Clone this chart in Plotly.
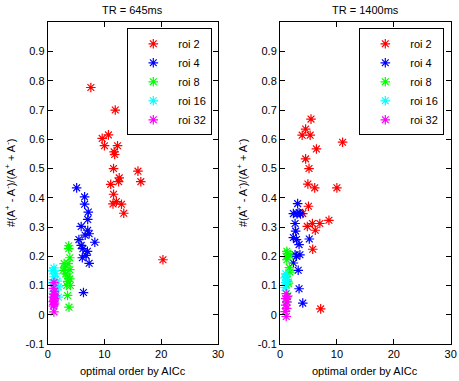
import plotly.graph_objects as go

# ---------------- data ----------------
roi_names = ["roi 2", "roi 4", "roi 8", "roi 16", "roi 32"]
roi_colors = ["#ff0000", "#0000ff", "#00ff00", "#00ffff", "#ff00ff"]

# TR = 645ms
a_roi2_x = [7.6, 11.9, 9.6, 10.7, 10.0, 12.3, 11.7, 11.8, 11.6, 15.9, 16.4, 12.6, 12.5, 11.1, 11.6, 12.1, 11.5, 13.0, 13.4, 20.3]
a_roi2_y = [0.777, 0.700, 0.603, 0.615, 0.578, 0.578, 0.557, 0.548, 0.500, 0.491, 0.455, 0.468, 0.455, 0.446, 0.412, 0.387, 0.379, 0.378, 0.347, 0.188]
a_roi4_x = [5.1, 6.5, 6.5, 7.15, 7.05, 5.9, 7.05, 7.3, 6.6, 5.5, 8.3, 5.9, 6.2, 7.0, 6.75, 6.1, 7.3, 6.3]
a_roi4_y = [0.434, 0.403, 0.378, 0.351, 0.326, 0.302, 0.289, 0.277, 0.272, 0.257, 0.248, 0.237, 0.226, 0.217, 0.203, 0.195, 0.176, 0.076]
a_roi8_x = [3.7, 3.7, 3.9, 2.9, 3.6, 2.75, 3.9, 3.2, 3.9, 3.5, 3.35, 4.0, 3.5, 3.75, 3.0, 3.6]
a_roi8_y = [0.236, 0.226, 0.195, 0.175, 0.175, 0.152, 0.154, 0.140, 0.123, 0.114, 0.100, 0.100, 0.066, 0.026, 0.160, 0.130]
a_roi16_x = [1.1, 0.9, 1.1, 1.7, 1.9, 1.0, 1.9, 1.1, 1.5, 0.8, 1.4, 1.2]
a_roi16_y = [0.160, 0.150, 0.130, 0.115, 0.095, 0.073, 0.060, 0.030, 0.085, 0.110, 0.140, 0.045]
a_roi32_x = [1.1, 1.0, 1.2, 1.1, 1.3, 1.0, 1.2, 1.1, 1.0, 1.2, 1.1, 1.0, 1.1]
a_roi32_y = [0.110, 0.090, 0.080, 0.070, 0.065, 0.060, 0.055, 0.050, 0.045, 0.040, 0.035, 0.030, 0.010]

# TR = 1400ms
b_roi2_x = [5.45, 4.5, 3.9, 5.3, 11.0, 6.4, 4.5, 5.1, 4.9, 6.1, 10.0, 5.0, 4.0, 4.8, 5.7, 7.0, 8.6, 6.2, 5.75, 7.15]
b_roi2_y = [0.669, 0.635, 0.614, 0.614, 0.590, 0.567, 0.533, 0.500, 0.447, 0.434, 0.434, 0.371, 0.346, 0.302, 0.312, 0.312, 0.323, 0.289, 0.224, 0.020]
b_roi4_x = [3.1, 2.35, 3.35, 3.0, 3.6, 2.65, 2.75, 2.35, 2.9, 3.35, 5.15, 2.65, 2.9, 3.5, 2.35, 3.2, 3.35, 4.0]
b_roi4_y = [0.380, 0.346, 0.349, 0.345, 0.345, 0.312, 0.286, 0.264, 0.257, 0.240, 0.259, 0.205, 0.200, 0.205, 0.177, 0.152, 0.089, 0.040]
b_roi8_x = [1.2, 1.75, 1.1, 1.2, 1.65, 1.75, 1.1, 1.45, 1.4, 1.2, 1.3, 1.5]
b_roi8_y = [0.217, 0.203, 0.199, 0.188, 0.161, 0.146, 0.130, 0.112, 0.065, 0.043, 0.210, 0.106]
b_roi16_x = [1.0, 0.9, 1.0, 0.9, 1.2, 1.1]
b_roi16_y = [0.140, 0.126, 0.110, 0.093, 0.118, 0.100]
b_roi32_x = [1.1, 1.0, 1.2, 1.0, 1.2, 0.9, 1.1, 1.3]
b_roi32_y = [0.072, 0.055, 0.044, 0.033, 0.022, 0.011, -0.006, 0.062]

panel_titles = ["TR = 645ms", "TR = 1400ms"]
x_label = "optimal order by AICc"
y_label = "#(A<sup>+</sup> - A<sup>-</sup>)/(A<sup>+</sup> + A<sup>-</sup>)"
x_ticks = [0, 10, 20, 30]
y_ticks = [-0.1, 0, 0.1, 0.2, 0.3, 0.4, 0.5, 0.6, 0.7, 0.8, 0.9]
y_tick_text = ["-0.1", "0", "0.1", "0.2", "0.3", "0.4", "0.5", "0.6", "0.7", "0.8", "0.9"]

panel_a = [(a_roi2_x, a_roi2_y), (a_roi4_x, a_roi4_y), (a_roi8_x, a_roi8_y),
           (a_roi16_x, a_roi16_y), (a_roi32_x, a_roi32_y)]
panel_b = [(b_roi2_x, b_roi2_y), (b_roi4_x, b_roi4_y), (b_roi8_x, b_roi8_y),
           (b_roi16_x, b_roi16_y), (b_roi32_x, b_roi32_y)]

# ---------------- figure ----------------
W, H = 459, 381
FONT = "Liberation Sans, Arial, sans-serif"
fig = go.Figure()

for panel_idx, panel in enumerate([panel_a, panel_b]):
    xa = "x" if panel_idx == 0 else "x2"
    ya = "y" if panel_idx == 0 else "y2"
    lg = "legend" if panel_idx == 0 else "legend2"
    for (xs, ys), name, col in zip(panel, roi_names, roi_colors):
        fig.add_trace(go.Scatter(
            x=xs, y=ys, mode="markers", name=name,
            xaxis=xa, yaxis=ya, legend=lg,
            marker=dict(symbol="asterisk-open", size=8,
                        line=dict(color=col, width=1.2), color=col),
        ))

def px_x(p):
    return p / W

def px_y(p):
    return 1 - p / H

ydom = [px_y(344), px_y(22.3)]
dom1 = [px_x(47.7), px_x(218)]
dom2 = [px_x(280), px_x(450.7)]

axis_common = dict(showline=True, linecolor="black", linewidth=1, mirror="ticks",
                   ticks="inside", ticklen=5, tickcolor="black", showgrid=False,
                   zeroline=False, automargin=False,
                   tickfont=dict(family=FONT, size=11, color="black"))

legend_common = dict(xanchor="right", yanchor="top",
                     bordercolor="black", borderwidth=1, bgcolor="white",
                     font=dict(family=FONT, size=11, color="black"),
                     itemwidth=40, tracegroupgap=0)

fig.update_layout(
    template="none",
    width=W, height=H,
    margin=dict(l=0, r=0, t=0, b=0, autoexpand=False),
    paper_bgcolor="white", plot_bgcolor="white",
    font=dict(family=FONT, size=11, color="black"),
    xaxis=dict(domain=dom1, range=[0, 30], tickvals=x_ticks, anchor="y", **axis_common),
    yaxis=dict(domain=ydom, range=[-0.1, 1.0], tickvals=y_ticks, ticktext=y_tick_text,
               anchor="x", **axis_common),
    xaxis2=dict(domain=dom2, range=[0, 30], tickvals=x_ticks, anchor="y2", **axis_common),
    yaxis2=dict(domain=ydom, range=[-0.1, 1.0], tickvals=y_ticks, ticktext=y_tick_text,
                anchor="x2", **axis_common),
    legend=dict(x=px_x(212.3), y=px_y(28.3), **legend_common),
    legend2=dict(x=px_x(444.3), y=px_y(28.3), **legend_common),
    showlegend=True,
)

annotations = []
for dom, title in zip([dom1, dom2], panel_titles):
    cx = (dom[0] + dom[1]) / 2
    annotations.append(dict(text=title, x=cx, y=px_y(10), xref="paper", yref="paper",
                            xanchor="center", yanchor="middle", showarrow=False,
                            font=dict(family=FONT, size=11)))
    annotations.append(dict(text=x_label, x=cx, y=px_y(371), xref="paper", yref="paper",
                            xanchor="center", yanchor="middle", showarrow=False,
                            font=dict(family=FONT, size=11)))
for xc in [px_x(10), px_x(242)]:
    annotations.append(dict(text=y_label, x=xc, y=px_y(183), xref="paper", yref="paper",
                            xanchor="center", yanchor="middle", showarrow=False, textangle=-90,
                            font=dict(family=FONT, size=11)))
fig.update_layout(annotations=annotations)

fig.write_html("out.html", config={"displayModeBar": False},
               post_script="document.body.style.margin='0';document.body.style.padding='0';")
